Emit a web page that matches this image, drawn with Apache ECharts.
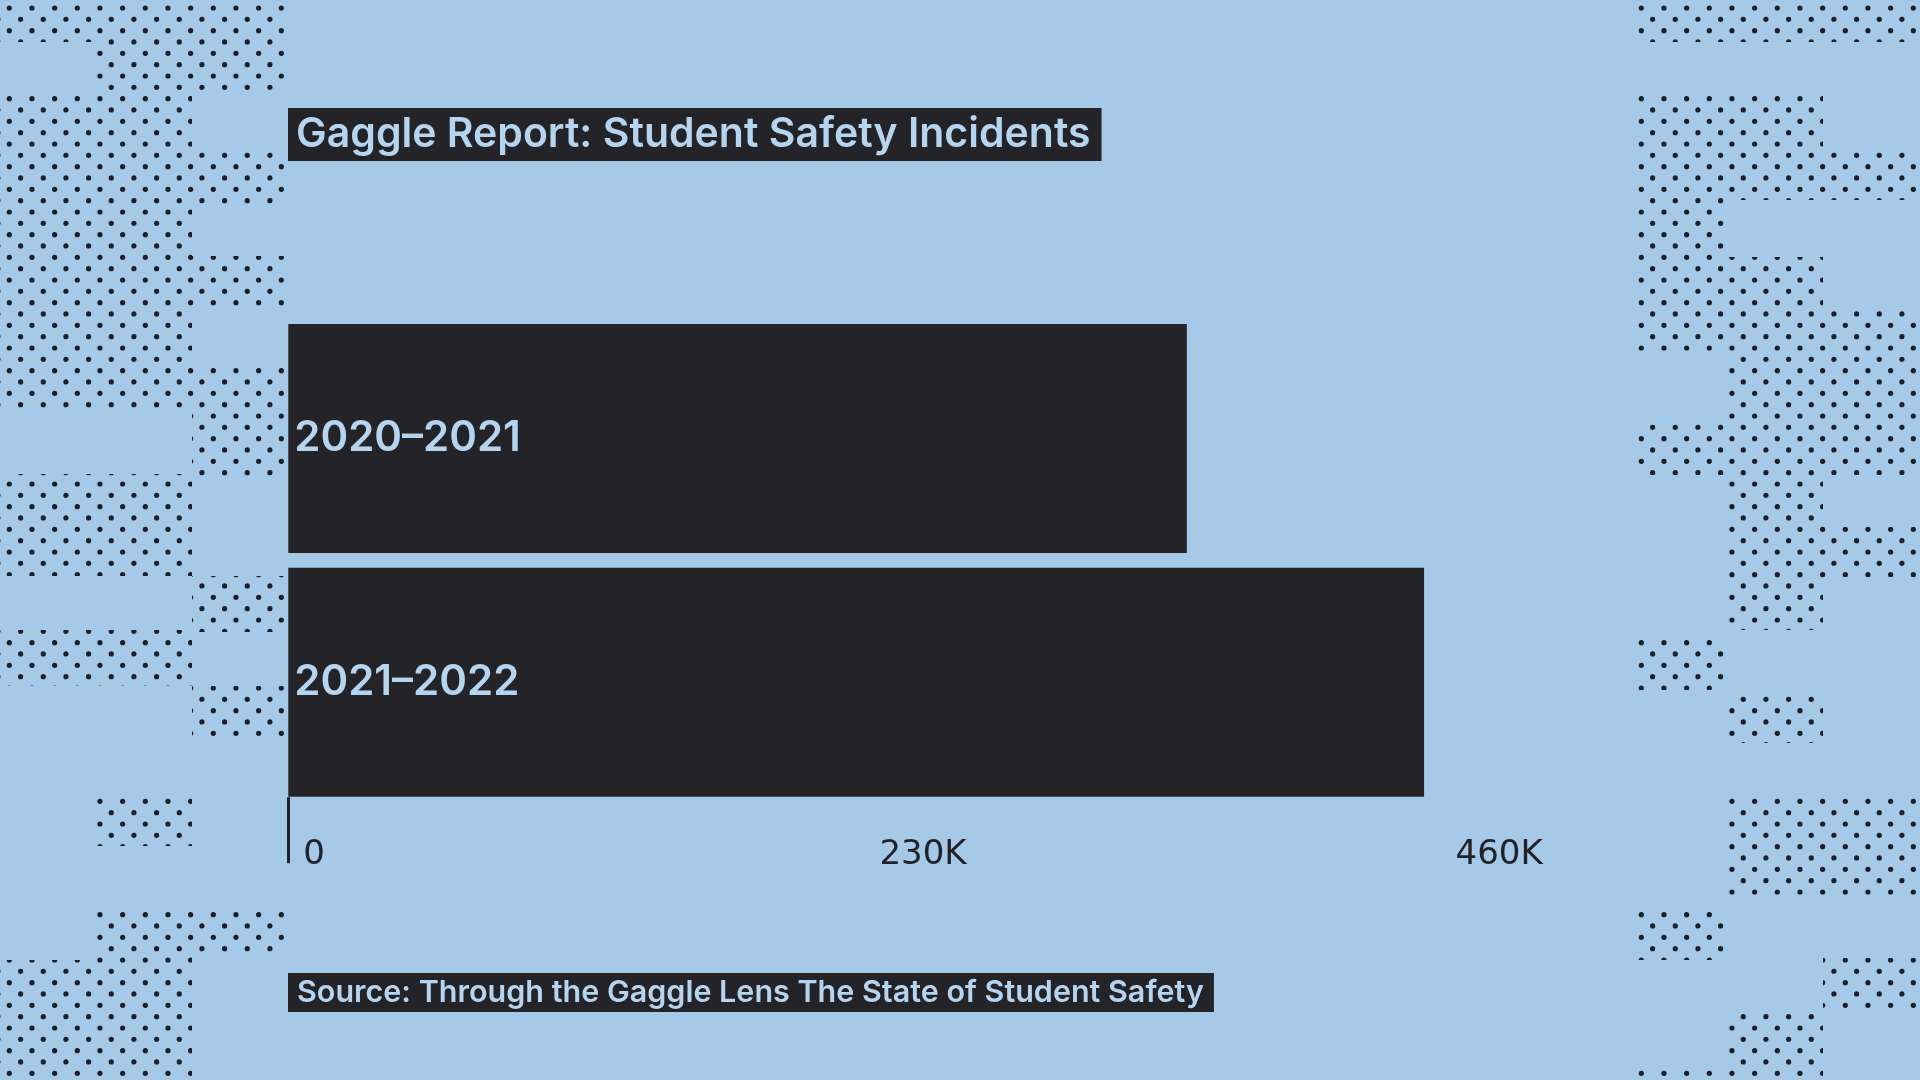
<!DOCTYPE html>
<html>
<head>
<meta charset="utf-8">
<title>Gaggle Report: Student Safety Incidents</title>
<script src="https://cdn.jsdelivr.net/npm/echarts@6/dist/echarts.min.js"></script>
<style>
  html, body { margin: 0; padding: 0; background: #a9cbea; }
  #chart { width: 1920px; height: 1080px; }
</style>
</head>
<body>
<div id="chart"></div>
<script>
// chart data
const schoolYears = ['2020–2021', '2021–2022'];
const incidents = [358700, 453400];
const axisTicks = [0, 230000, 460000];

// halftone blocks in the margins: [x, y, width, height]
const leftDots = [
    [0, 0, 96, 42], [0, 96, 96, 312], [0, 474, 96, 102], [0, 630, 96, 56], [0, 960, 96, 120],
    [96, 0, 96, 92], [96, 96, 96, 312], [96, 474, 96, 102], [96, 630, 96, 56], [96, 796, 96, 50], [96, 906, 96, 174],
    [192, 0, 96, 92], [192, 152, 96, 52], [192, 256, 96, 52], [192, 364, 96, 112], [192, 576, 96, 56], [192, 686, 96, 56], [192, 906, 96, 50]
];
const rightDots = [
    [1636, 0, 92, 42], [1636, 96, 92, 259], [1636, 420, 92, 55], [1636, 637, 92, 53], [1636, 908, 92, 52], [1636, 1068, 92, 12],
    [1728, 0, 95, 42], [1728, 96, 95, 104], [1728, 257, 95, 373], [1728, 693, 95, 50], [1728, 795, 95, 102], [1728, 1012, 95, 68],
    [1823, 0, 97, 42], [1823, 150, 97, 50], [1823, 310, 97, 165], [1823, 527, 97, 50], [1823, 795, 97, 102], [1823, 958, 97, 55]
];

const BG = '#a7c9e8';
const INK = '#242327';
const PALE = '#b5d4f0';

/**
 * Build a repeating tile of staggered halftone dots.
 * @returns {HTMLCanvasElement}
 */
function dotTile() {
    const c = document.createElement('canvas');
    c.width = 68;
    c.height = 68;
    const ctx = c.getContext('2d');
    ctx.fillStyle = '#1c1f28';
    const step = 68 / 3;
    for (let i = -1; i <= 3; i++) {
        for (let j = -1; j <= 3; j++) {
            [[9.3, 8], [20.6, 19.3]].forEach(([ox, oy]) => {
                ctx.beginPath();
                ctx.arc(ox + i * step, oy + j * step, 2.6, 0, Math.PI * 2);
                ctx.fill();
            });
        }
    }
    return c;
}

const tile = dotTile();
const dotRects = leftDots.concat(rightDots).map(([x, y, w, h]) => ({
    type: 'rect',
    silent: true,
    z: -10,
    shape: { x, y, width: w, height: h },
    style: { fill: { image: tile, repeat: 'repeat' } }
}));

const chart = echarts.init(document.getElementById('chart'));

const option = {
    backgroundColor: BG,
    animation: false,
    graphic: dotRects,
    title: [
        {
            text: 'Gaggle Report: Student Safety Incidents',
            left: 288,
            top: 108,
            padding: [0, 11, 0, 8],
            backgroundColor: INK,
            textStyle: {
                fontFamily: 'Inter',
                fontWeight: 600,
                fontSize: 41,
                lineHeight: 53,
                color: PALE
            }
        },
        {
            text: 'Source: Through the Gaggle Lens The State of Student Safety',
            left: 288,
            top: 973,
            padding: [0, 10, 0, 9],
            backgroundColor: INK,
            textStyle: {
                fontFamily: 'Inter',
                fontWeight: 600,
                fontSize: 30.5,
                lineHeight: 39,
                color: PALE
            }
        }
    ],
    grid: { left: 288.3, right: 479.4, top: 316.6, bottom: 275.8 },
    xAxis: {
        type: 'value',
        min: 0,
        max: 460000,
        interval: 230000,
        offset: -7,
        splitLine: { show: false },
        axisLine: { show: false },
        axisTick: {
            show: true,
            customValues: [axisTicks[0]],
            length: 66,
            lineStyle: { color: '#1f2229', width: 3 }
        },
        axisLabel: {
            customValues: axisTicks,
            align: 'left',
            verticalAlign: 'middle',
            margin: 58,
            padding: [0, 0, 0, 15],
            fontFamily: 'DejaVu Sans',
            fontSize: 34,
            color: '#1f2229',
            formatter: (v) => v === 0 ? '0' : (v / 1000) + 'K'
        }
    },
    yAxis: {
        type: 'category',
        inverse: true,
        data: schoolYears,
        axisLine: { show: false },
        axisTick: { show: false },
        axisLabel: { show: false }
    },
    series: [
        {
            type: 'bar',
            data: incidents,
            barWidth: 229,
            itemStyle: { color: INK },
            label: {
                show: true,
                position: 'insideLeft',
                distance: 6,
                formatter: '{b}',
                fontFamily: 'Inter',
                fontWeight: 600,
                fontSize: 42,
                color: PALE
            }
        }
    ]
};

chart.setOption(option);
</script>
</body>
</html>
